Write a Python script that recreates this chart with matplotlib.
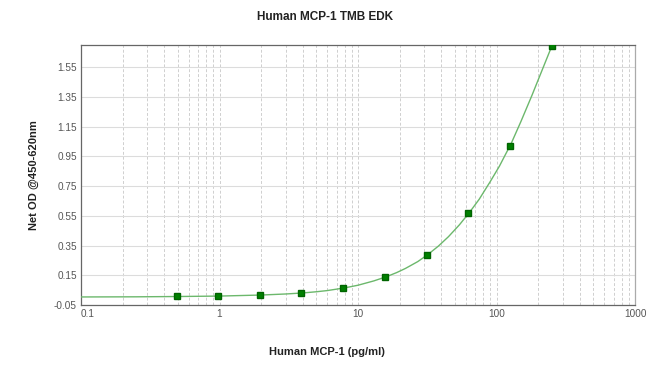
import matplotlib
matplotlib.use("Agg")
import matplotlib.pyplot as plt
from matplotlib.ticker import FixedLocator, LogLocator, NullFormatter

plt.rcParams['font.family'] = ['Liberation Sans', 'DejaVu Sans']

# standards (pg/ml) and net OD
conc = [0.49, 0.98, 1.95, 3.9, 7.8, 15.6, 31.25, 62.5, 125, 250]
od = [0.010, 0.010, 0.017, 0.030, 0.064, 0.138, 0.286, 0.568, 1.019, 1.690]

# fitted curve
curve_x = [0.1, 0.25, 0.5, 1, 2, 3, 4, 5, 6, 8, 10, 13, 16, 19, 22, 27, 32, 38, 45,
           54, 64, 75, 90, 105, 128, 150, 180, 210, 250]
curve_y = [0.004, 0.005, 0.007, 0.010, 0.017, 0.024, 0.031, 0.039, 0.047, 0.065,
           0.083, 0.112, 0.140, 0.168, 0.196, 0.242, 0.290, 0.346, 0.410,
           0.490, 0.575, 0.662, 0.780, 0.885, 1.040, 1.185, 1.360, 1.515, 1.690]

yticks = [-0.05, 0.15, 0.35, 0.55, 0.75, 0.95, 1.15, 1.35, 1.55]
xticks = [0.1, 1, 10, 100, 1000]
xlabels = ['0.1', '1', '10', '100', '1000']

fig = plt.figure(figsize=(6.5, 3.79), dpi=100)
ax = fig.add_axes([0.1246, 0.1953, 0.8524, 0.686])

ax.plot(curve_x, curve_y, color='#6cb86c', lw=1.0, zorder=3)
ax.plot(conc, od, 's', color='#008000', mec='#006400', ms=5, zorder=4)

ax.set_xscale('log')
ax.set_xlim(0.1, 1000)
ax.set_ylim(-0.05, 1.7)
ax.yaxis.set_major_locator(FixedLocator(yticks))
ax.set_yticklabels(['%.2f' % v for v in yticks])
ax.xaxis.set_major_locator(FixedLocator(xticks))
ax.set_xticklabels(xlabels)
ax.xaxis.set_minor_locator(LogLocator(base=10, subs=range(2, 10)))
ax.xaxis.set_minor_formatter(NullFormatter())

ax.grid(axis='x', which='both', color='#cfcfcf', ls=(0, (3, 2)), lw=0.7)
ax.grid(axis='y', which='major', color='#dcdcdc', ls='-', lw=0.8)
ax.set_axisbelow(True)

ax.tick_params(which='both', length=0, labelsize=7.2, labelcolor='#555555', pad=3)
for lab in ax.get_xticklabels():
    lab.set_horizontalalignment('left' if lab.get_text() == '0.1' else 'center')

for s in ['left', 'bottom', 'top']:
    ax.spines[s].set_color('#666666')
ax.spines['right'].set_color('#aaaaaa')
for s in ax.spines.values():
    s.set_linewidth(0.9)

fig.text(0.5, 0.955, 'Human MCP-1 TMB EDK', ha='center', va='center',
         fontsize=8.5, fontweight='bold', color='#222222')
fig.text(0.503, 0.072, 'Human MCP-1 (pg/ml)', ha='center', va='center',
         fontsize=8, fontweight='bold', color='#222222')
fig.text(0.052, 0.537, 'Net OD @450-620nm', ha='center', va='center',
         rotation=90, fontsize=8, fontweight='bold', color='#222222')

fig.savefig('out.png', dpi=100)
